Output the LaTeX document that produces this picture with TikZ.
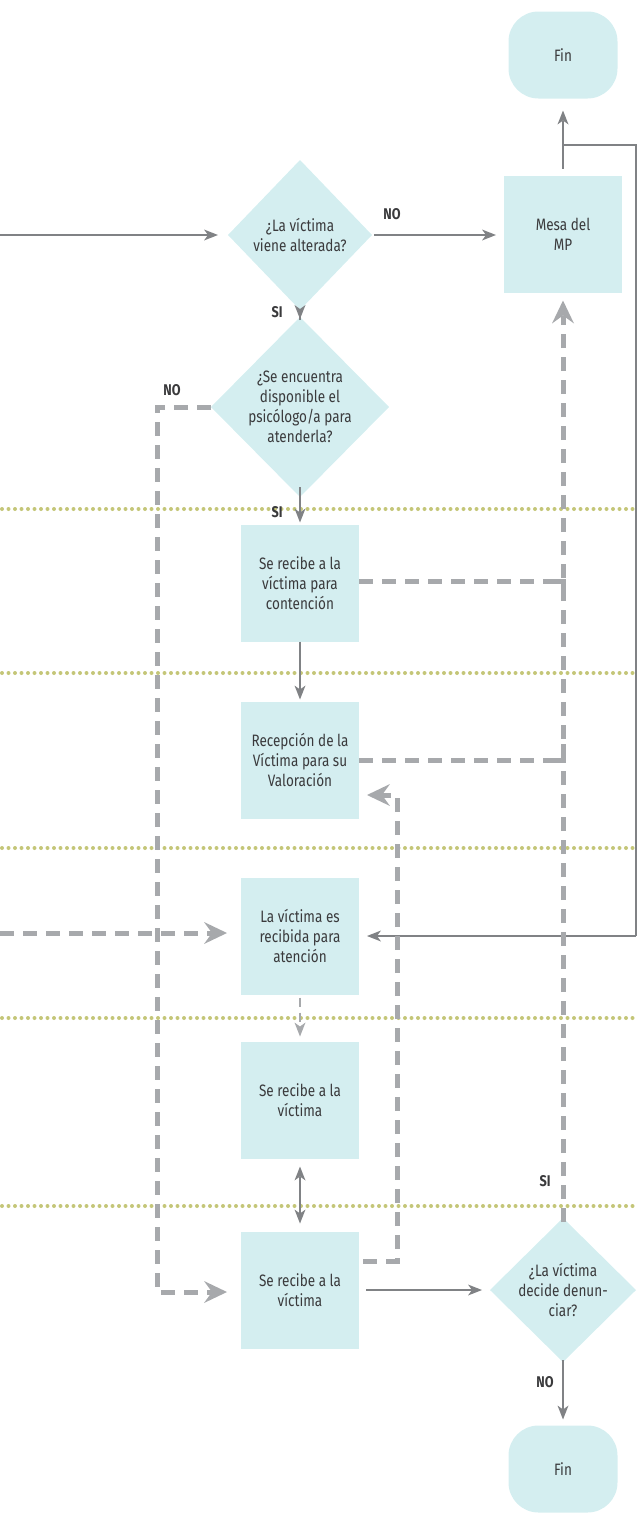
\documentclass[tikz,border=0pt]{standalone}
\usepackage{fontspec}
\setmainfont{Fira Sans}[FakeStretch=0.82]
\usetikzlibrary{shapes.geometric,arrows.meta}
\definecolor{boxfill}{HTML}{D4EEF0}
\definecolor{darkline}{HTML}{808285}
\definecolor{lightline}{HTML}{A7A9AC}
\definecolor{olivedot}{HTML}{C4C678}
\definecolor{txtcol}{HTML}{3A3A3C}
\begin{document}
\begin{tikzpicture}[x=1pt,y=-1pt,
  box/.style={rectangle, fill=boxfill, minimum width=118pt, minimum height=117pt, inner sep=0pt, outer sep=0pt},
  endbox/.style={rectangle, rounded corners=30pt, fill=boxfill, minimum width=109pt, minimum height=87pt, inner sep=0pt, outer sep=0pt},
  dia/.style={diamond, fill=boxfill, inner sep=0pt, outer sep=0pt},
  txt/.style={align=center, font=\fontsize{16.5}{20}\selectfont, text=txtcol},
  lbl/.style={font=\fontsize{15.5}{16}\selectfont\bfseries, text=txtcol},
  solidarrow/.style={draw=darkline, line width=2pt, -{Stealth[length=14pt,width=11pt,inset=4pt,line width=0pt]}},
  solidline/.style={draw=darkline, line width=2pt},
  dasharrow/.style={draw=lightline, line width=5pt, dash pattern=on 14pt off 9pt, -{Stealth[length=23pt,width=22pt,inset=8pt,line width=0pt]}},
  dashline/.style={draw=lightline, line width=5pt, dash pattern=on 14pt off 9pt},
  dotline/.style={draw=olivedot, line width=4pt, dash pattern=on 0pt off 6.5pt, line cap=round}
]
\useasboundingbox (0,0) rectangle (638,1515);

% swimlane separators
\foreach \yy in {509,673,848,1018,1206}
  \draw[dotline] (2,\yy) -- (638,\yy);

% nodes
\node[endbox] (fin1) at (563,55) {};
\node[txt] at (fin1) {Fin};
\node[box] (mesa) at (563,234) {};
\node[txt] at (mesa) {Mesa del\\MP};
\node[dia, minimum width=144pt, minimum height=150pt] (d1) at (300,235) {};
\node[txt] at (d1) {¿La víctima\\viene alterada?};
\node[dia, minimum width=178pt, minimum height=180pt] (d2) at (300,407) {};
\node[txt] at (d2) {¿Se encuentra\\disponible el\\psicólogo/a para\\atenderla?};
\node[box] (b1) at (300,583) {};
\node[txt] at (b1) {Se recibe a la\\víctima para\\contención};
\node[box] (b2) at (300,760) {};
\node[txt] at (b2) {Recepción de la\\Víctima para su\\Valoración};
\node[box] (b3) at (300,936) {};
\node[txt] at (b3) {La víctima es\\recibida para\\atención};
\node[box] (b4) at (300,1100) {};
\node[txt] at (b4) {Se recibe a la\\víctima};
\node[box] (b5) at (300,1290) {};
\node[txt] at (b5) {Se recibe a la\\víctima};
\node[dia, minimum width=146pt, minimum height=144pt] (d3) at (563,1290) {};
\node[txt] at (d3) {¿La víctima\\decide denun-\\ciar?};
\node[endbox] (fin2) at (563,1469) {};
\node[txt] at (fin2) {Fin};

% coordinates
\coordinate (inA) at (0,235);
\coordinate (inB) at (0,933);
\coordinate (r1) at (563,145);
\coordinate (r2) at (636,145);
\coordinate (r3) at (636,936);
\coordinate (l1) at (157,407);
\coordinate (l2) at (157,1292);
\coordinate (m1) at (563,581);
\coordinate (m1b) at (563,597);
\coordinate (m2) at (563,760);
\coordinate (m2b) at (563,744);
\coordinate (v0) at (363,1261);
\coordinate (v1) at (397,1261);
\coordinate (v2) at (397,795);
\coordinate (v3) at (359,795);

% solid connectors
\draw[solidarrow, shorten >=10pt] (inA) -- (d1.west);
\draw[solidarrow, shorten <=2pt, shorten >=8pt] (d1.east) -- (mesa.west |- d1.east);
\draw[solidarrow, shorten <=-10pt, shorten >=-2pt] (d1.south) -- (d2.north);
\draw[solidarrow, shorten <=-10pt, shorten >=2pt] (d2.south) -- (b1.north);
\draw[solidarrow, shorten >=2pt] (b1.south) -- (b2.north);
\draw[solidarrow, shorten <=7pt, shorten >=12pt] (mesa.north) -- (fin1.south);
\draw[solidline] (r1) -- (r2) -- (r3);
\draw[solidarrow, shorten >=8pt] (r3) -- (b3.east);
\draw[draw=darkline, line width=2pt, {Stealth[length=14pt,width=11pt,inset=4pt,line width=0pt]}-{Stealth[length=14pt,width=11pt,inset=4pt,line width=0pt]}, shorten <=8pt, shorten >=8pt] (b4.south) -- (b5.north);
\draw[solidarrow, shorten <=7pt, shorten >=8pt] (b5.east) -- (d3.west);
\draw[solidarrow, shorten <=-2pt, shorten >=6pt] (d3.south) -- (fin2.north);
\draw[draw=lightline, line width=2pt, dash pattern=on 9pt off 6pt, -{Stealth[length=14pt,width=11pt,inset=4pt,line width=0pt]}, shorten <=3pt, shorten >=5pt] (b3.south) -- (b4.north);

% dashed connectors
\draw[dasharrow, shorten >=14pt] (d2.west) -- (l1) -- (l2) -- (b5.west |- l2);
\draw[dasharrow, shorten >=14pt] (inB) -- (b3.west |- inB);
\draw[dasharrow, shorten <=-4pt, shorten >=8pt] (d3.north) -- (mesa.south);
\draw[dashline, dash pattern=on 14pt off 9pt on 14pt off 9pt on 14pt off 9pt on 14pt off 9pt on 14pt off 9pt on 14pt off 9pt on 14pt off 9pt on 14pt off 9pt on 40pt off 9pt] (b1.east |- m1) -- (m1) -- (m1b);
\draw[dashline, dash pattern=on 14pt off 9pt on 14pt off 9pt on 14pt off 9pt on 14pt off 9pt on 14pt off 9pt on 14pt off 9pt on 14pt off 9pt on 14pt off 9pt on 40pt off 9pt] (b2.east) -- (m2) -- (m2b);
\draw[dasharrow, shorten >=8pt] (v0) -- (v1) -- (v2) -- (v3);

% labels
\node[lbl] at (392,214) {NO};
\node[lbl] at (277,312) {SI};
\node[lbl] at (172,390) {NO};
\node[lbl] at (277,512) {SI};
\node[lbl] at (545,1181) {SI};
\node[lbl] at (545,1382) {NO};
\end{tikzpicture}
\end{document}
